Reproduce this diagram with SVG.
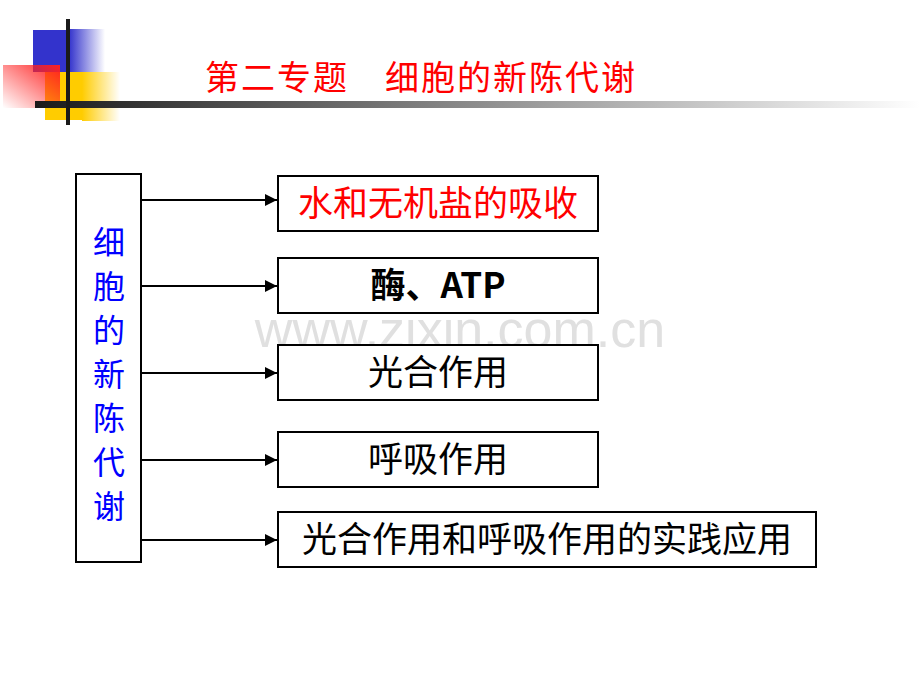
<svg xmlns="http://www.w3.org/2000/svg" width="920" height="690" viewBox="0 0 920 690">
<defs>
<linearGradient id="gb" x1="0" x2="1"><stop offset="0" stop-color="#3333cc"/><stop offset="1" stop-color="#3333cc" stop-opacity="0"/></linearGradient>
<linearGradient id="gy" x1="0" x2="1"><stop offset="0" stop-color="#ffcc00"/><stop offset="1" stop-color="#ffcc00" stop-opacity="0"/></linearGradient>
<linearGradient id="gr" x1="1" y1="0" x2="0" y2="1"><stop offset="0" stop-color="#ff2020"/><stop offset="1" stop-color="#ff2020" stop-opacity="0"/></linearGradient>
<linearGradient id="gk" x1="0" x2="1"><stop offset="0" stop-color="#1a1a1a"/><stop offset="1" stop-color="#ffffff"/></linearGradient>
<marker id="ar" viewBox="0 0 10 10" refX="10" refY="5" markerWidth="6" markerHeight="6" orient="auto"><path d="M0,0L10,5L0,10z" fill="#000"/></marker>
<style>
.b{fill:#fff;stroke:#000;stroke-width:2}
.t{font-family:"Noto Sans CJK SC","Liberation Sans",sans-serif;font-size:35px;text-anchor:middle}
.c{stroke:#000;stroke-width:2;fill:none;marker-end:url(#ar)}
</style>
</defs>
<rect x="33" y="30" width="36" height="42" fill="#3333cc"/>
<rect x="69" y="29" width="36" height="43" fill="url(#gb)"/>
<rect x="45" y="72" width="37" height="48" fill="#ffcc00"/>
<rect x="82" y="72" width="38" height="49" fill="url(#gy)"/>
<rect x="3" y="65" width="57" height="43" fill="url(#gr)"/>
<rect x="35" y="101" width="885" height="7" fill="url(#gk)"/>
<rect x="66" y="19" width="4" height="106" fill="#1a1a1a"/>
<text x="205" y="90" font-family="'Noto Sans CJK SC',sans-serif" font-size="34" fill="#ff0000" textLength="430" lengthAdjust="spacing">第二专题　细胞的新陈代谢</text>
<text x="460" y="347" font-family="'Liberation Sans',sans-serif" font-size="52" fill="#e0e0e0" text-anchor="middle">www.zixin.com.cn</text>
<g id="root"><rect class="b" x="76" y="174" width="65" height="388"/>
<text font-family="'Noto Sans CJK SC',sans-serif" font-size="32" fill="#0000ff" text-anchor="middle"><tspan x="109" y="254">细</tspan><tspan x="109" y="298">胞</tspan><tspan x="109" y="342">的</tspan><tspan x="109" y="386">新</tspan><tspan x="109" y="430">陈</tspan><tspan x="109" y="474">代</tspan><tspan x="109" y="518">谢</tspan></text></g>
<g id="n1"><rect class="b" x="278" y="176" width="320" height="55"/><text class="t" x="438" y="216" fill="#ff0000">水和无机盐的吸收</text></g>
<g id="n2"><rect class="b" x="278" y="258" width="320" height="55"/><text class="t" x="438" y="298" font-family="'Liberation Serif','Noto Sans CJK SC',serif" font-weight="bold">酶、ATP</text></g>
<g id="n3"><rect class="b" x="278" y="345" width="320" height="55"/><text class="t" x="438" y="385">光合作用</text></g>
<g id="n4"><rect class="b" x="278" y="432" width="320" height="55"/><text class="t" x="438" y="472">呼吸作用</text></g>
<g id="n5"><rect class="b" x="278" y="512" width="538" height="55"/><text class="t" x="547" y="552">光合作用和呼吸作用的实践应用</text></g>
<g id="connectors">
<line class="c" x1="141" y1="200" x2="277" y2="200"/>
<line class="c" x1="141" y1="286" x2="277" y2="286"/>
<line class="c" x1="141" y1="373" x2="277" y2="373"/>
<line class="c" x1="141" y1="460" x2="277" y2="460"/>
<line class="c" x1="141" y1="540" x2="277" y2="540"/>
</g>
</svg>
